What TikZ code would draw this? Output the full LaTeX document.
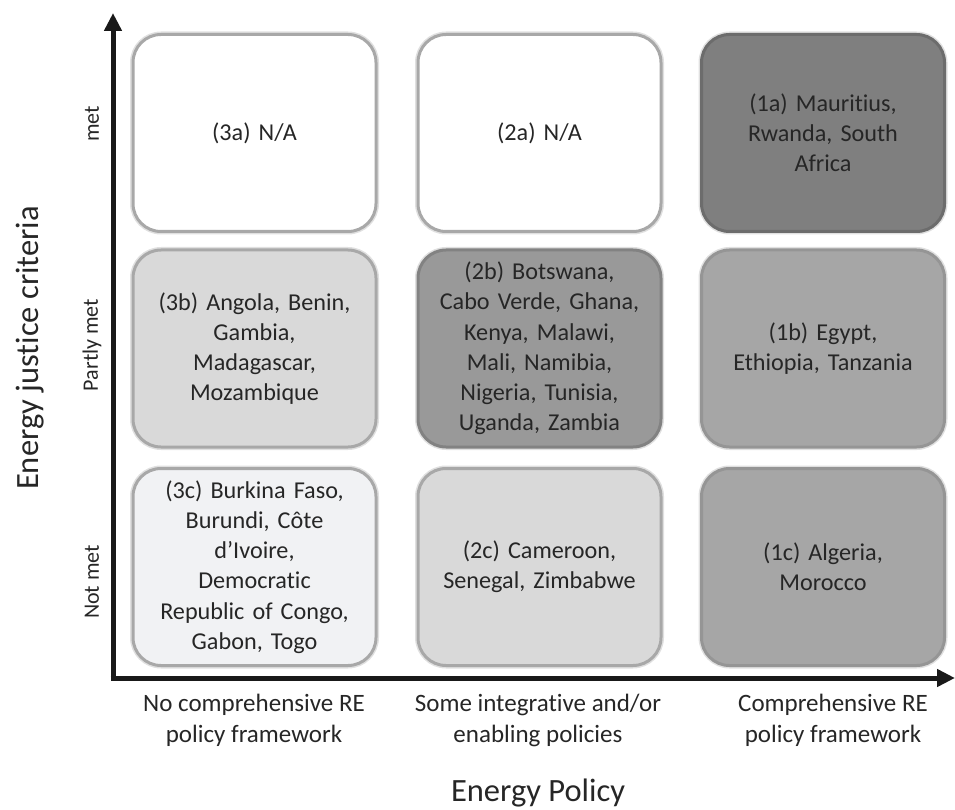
\documentclass[tikz,border=0pt]{standalone}
\usepackage{fontspec}
\setmainfont{Carlito}[Ligatures=NoCommon]
\usetikzlibrary{arrows.meta}
\definecolor{txt}{HTML}{262626}
\definecolor{cA}{HTML}{7F7F7F}
\definecolor{cB}{HTML}{999999}
\definecolor{cC}{HTML}{A6A6A6}
\definecolor{cD}{HTML}{D9D9D9}
\definecolor{cE}{HTML}{F1F2F4}
\definecolor{edge}{HTML}{A8A8A8}
\tikzset{
  cell/.style={rounded corners=28pt, minimum width=243pt, minimum height=197pt,
    text width=228pt, align=center, font=\fontsize{24.2}{30.2}\selectfont, text=txt,
    draw=edge, line width=3pt, inner sep=0pt},
  halo/.style={rounded corners=28pt, minimum width=243pt, minimum height=197pt,
    draw=black!12, line width=6pt, inner sep=0pt},
  rowlab/.style={rotate=90, font=\fontsize{22}{26}\selectfont, text=txt},
  collab/.style={align=center, font=\fontsize{25}{31}\selectfont, text=txt},
  axistitle/.style={font=\fontsize{32.5}{38}\selectfont, text=txt},
  axis/.style={line width=5pt, draw=black!90, -{Triangle[length=18pt,width=17pt]}}
}
\begin{document}
\begin{tikzpicture}[x=1pt,y=-1pt]
\useasboundingbox (0,0) rectangle (955,810);
% halos
\foreach \x/\y in {254.5/133, 539.5/133, 823/133, 254.5/348.5, 539.5/348.5, 823/348.5, 254.5/567, 539.5/567, 823/567}
  \node[halo] at (\x,\y) {};
% cells
\node[cell, fill=white] (c3a) at (254.5,133) {(3a) N/A};
\node[cell, fill=white] (c2a) at (539.5,133) {(2a) N/A};
\node[cell, fill=cA, draw=cA!85!black] (c1a) at (823,133) {(1a) Mauritius,\\Rwanda, South\\Africa};
\node[cell, fill=cD] (c3b) at (254.5,348.5) {(3b) Angola, Benin,\\Gambia,\\Madagascar,\\Mozambique};
\node[cell, fill=cB, draw=cB!85!black] (c2b) at (539.5,348.5) {(2b) Botswana,\\Cabo Verde, Ghana,\\Kenya, Malawi,\\Mali, Namibia,\\Nigeria, Tunisia,\\Uganda, Zambia};
\node[cell, fill=cC, draw=cC!90!black] (c1b) at (823,348.5) {(1b) Egypt,\\Ethiopia, Tanzania};
\node[cell, fill=cE] (c3c) at (254.5,567) {(3c) Burkina Faso,\\Burundi, Côte\\d’Ivoire,\\Democratic\\Republic of Congo,\\Gabon, Togo};
\node[cell, fill=cD] (c2c) at (539.5,567) {(2c) Cameroon,\\Senegal, Zimbabwe};
\node[cell, fill=cC, draw=cC!90!black] (c1c) at (823,567) {(1c) Algeria,\\Morocco};
% axes
\coordinate (ytip) at (113,13);
\coordinate (xtip) at (955,678);
\coordinate (ystart) at (113,680.5);
\coordinate (xstart) at (110.5,678);
\draw[axis] (ystart) -- (ytip);
\draw[axis] (xstart) -- (xtip);
% row labels
\node[rowlab] (lmet) at (92,124) {met};
\node[rowlab] (lpart) at (92,345) {Partly met};
\node[rowlab] (lnot) at (92,582) {Not met};
\node[axistitle, rotate=90] (ytitle) at (30,348) {Energy justice criteria};
% column labels
\node[collab] (l1) at (254,720) {No comprehensive RE\\policy framework};
\node[collab] (l2) at (538,720) {Some integrative and/or\\enabling policies};
\node[collab] (l3) at (833,720) {Comprehensive RE\\policy framework};
\node[axistitle] (xtitle) at (538,793) {Energy Policy};
\end{tikzpicture}
\end{document}
